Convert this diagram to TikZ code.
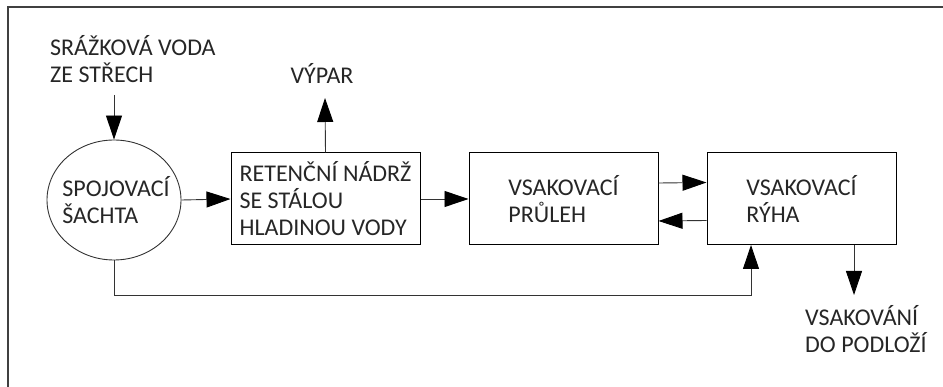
\documentclass[tikz,border=0pt]{standalone}
\usepackage{fontspec}
\setmainfont{Carlito}
\usetikzlibrary{arrows.meta,shapes.geometric}
\begin{document}
\begin{tikzpicture}[x=1pt,y=-1pt,
  every node/.style={font=\fontsize{24}{27}\selectfont, text=black!85},
  box/.style={draw=black, line width=1pt, minimum width=189pt, minimum height=92pt, align=left, inner sep=0pt},
  conn/.style={draw=black!80, line width=0.9pt, -{Triangle[length=24pt,width=16pt,color=black]}},
  lbl/.style={align=left, inner sep=0pt}]
\useasboundingbox (0,0) rectangle (943,387);
\draw[line width=2pt, black!75] (8,387) -- (8,7) -- (943,7);
\node[draw=black!80, line width=0.9pt, ellipse, minimum width=134pt, minimum height=120pt, inner sep=0pt,
  label={[lbl, xshift=2pt]center:{SPOJOVACÍ\\ŠACHTA}}] (shaft) at (114,200) {};
\node[box] (tank) at (325.5,199) {RETENČNÍ NÁDRŽ\\SE STÁLOU\\HLADINOU VODY};
\node[box] (swale) at (563.5,199) {VSAKOVACÍ\\PRŮLEH};
\node[box] (trench) at (801.5,198.5) {VSAKOVACÍ\\RÝHA};
\node[lbl, anchor=west] (rain) at (50,59) {SRÁŽKOVÁ VODA\\ZE STŘECH};
\node[lbl] (evap) at (322,73) {VÝPAR};
\node[lbl, anchor=west] (infil) at (805,329) {VSAKOVÁNÍ\\DO PODLOŽÍ};
\coordinate (rainEnd) at (114,95);
\coordinate (evapEnd) at (325,98);
\coordinate (loop) at (751,295);
\coordinate (infilEnd) at (854,295);
\draw[conn] (rainEnd) -- (shaft.north);
\draw[conn] (shaft.east) -- (tank.west);
\draw[conn] (tank.north) -- (evapEnd);
\draw[conn] (tank.east) -- (swale.west);
\draw[conn] ([yshift=16pt]swale.east) -- ([yshift=16pt]trench.west);
\draw[conn] ([yshift=-22pt]trench.west) -- ([yshift=-22pt]swale.east);
\draw[conn] (shaft.south) |- (loop) -- (loop |- trench.south);
\draw[conn] (infilEnd |- trench.south) -- (infilEnd);
\end{tikzpicture}
\end{document}
